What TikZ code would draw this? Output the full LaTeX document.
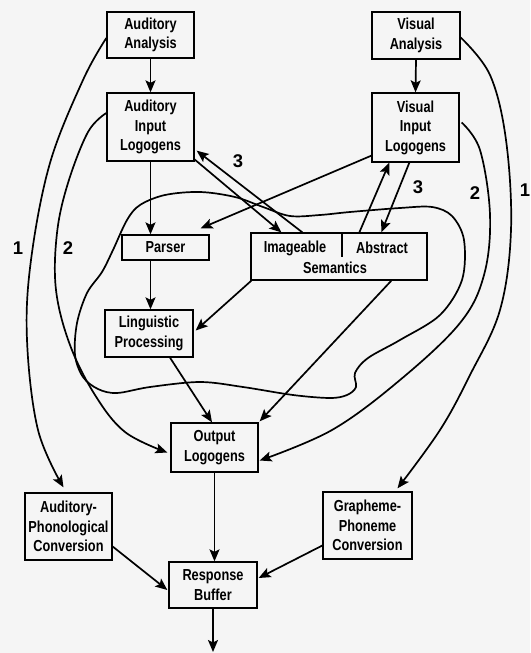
\documentclass[tikz,border=0pt]{standalone}
\usepackage{fontspec}
\setmainfont{Liberation Sans}
\newfontfamily\boxfont[FakeStretch=0.8]{Liberation Sans}
\newfontfamily\numfont{Liberation Sans}
\usetikzlibrary{arrows.meta,calc}
\begin{document}
\begin{tikzpicture}[x=1bp,y=-1bp,
  box/.style={draw, line width=1.3bp, inner sep=0pt, align=center,
    font=\boxfont\bfseries\fontsize{16}{19.5}\selectfont},
  lbl/.style={inner sep=0pt, font=\boxfont\bfseries\fontsize{16}{19.5}\selectfont},
  num/.style={inner sep=0pt, font=\numfont\bfseries\fontsize{18.5}{20}\selectfont},
  conn/.style={line width=1.7bp, -{Stealth[length=12bp,width=10bp,inset=2.5bp]}},
  blob/.style={line width=1.7bp}]

% paper
\fill[black!4] (0,0) rectangle (530,653);

% boxes
\node[box, minimum width=87bp, minimum height=46bp] (aa) at (150.5,35) {Auditory\\Analysis};
\node[box, minimum width=87bp, minimum height=68bp] (aia) at (150.5,127) {Auditory\\Input\\Logogens};
\node[box, minimum width=88bp, minimum height=47bp] (va) at (416,35.5) {Visual\\Analysis};
\node[box, minimum width=87bp, minimum height=69bp] (via) at (415.5,127.5) {Visual\\Input\\Logogens};
\node[box, minimum width=87bp, minimum height=25bp] (parser) at (165.5,247.5) {Parser};
\node[box, minimum width=176bp, minimum height=47bp] (sem) at (339,256.5) {};
\node[lbl] (img) at (295,248) {Imageable};
\node[lbl] (abs) at (382,248) {Abstract};
\node[lbl] (semt) at (335,268) {Semantics};
\draw[line width=1.3bp] ($(sem.north)+(3,0)$) -- ++(0,25);
\node[box, minimum width=88bp, minimum height=47bp] (lp) at (149,333.5) {Linguistic\\Processing};
\node[box, minimum width=87bp, minimum height=49bp] (ol) at (214.5,447.5) {Output\\Logogens};
\node[box, minimum width=87bp, minimum height=67bp] (apc) at (68.5,526.5) {Auditory-\\Phonological\\Conversion};
\node[box, minimum width=88bp, minimum height=46bp] (rb) at (213,585) {Response\\Buffer};
\node[box, minimum width=89bp, minimum height=67bp] (gpc) at (367.5,525.5) {Grapheme-\\Phoneme\\Conversion};
\coordinate (out) at (213,652);

% the semantic region
\draw[blob] plot[smooth cycle, tension=0.55] coordinates {
  (140,205) (165,195) (200,192) (235,197) (263,207) (290,216) (320,215)
  (350,212) (400,208) (432,207) (452,216) (464,240) (462,280) (440,315)
  (400,340) (368,358) (355,373) (356,387) (347,395) (330,398) (293,395)
  (243,387) (200,382) (150,387) (117,393) (98,389) (83,377) (75,355)
  (77,323) (87,293) (102,272) (113,250) (127,220)};

% straight connectors
\draw[conn] (aa.south) -- (aia.north);
\draw[conn] (va.south) -- (via.north);
\draw[conn] (aia.south) -- (aia.south |- parser.north);
\draw[conn] (aia.south |- parser.south) -- (aia.south |- lp.north);
\draw[conn] ($(aia.south east)+(-1,-3)$) -- ($(sem.north west)+(31,0)$);
\draw[conn] ($(sem.north west)+(52,0)$) -- ($(aia.south east)+(2,-11)$);
\draw[conn] ($(via.south west)+(0,-7)$) -- ($(parser.north east)+(-9,-6)$);
\draw[conn] ($(sem.north west)+(109,0)$) -- ($(via.south west)+(18,0)$);
\draw[conn] ($(via.south west)+(38,0)$) -- ($(sem.north west)+(131,0)$);
\draw[conn] ($(sem.south west)+(1,0)$) -- ($(lp.east)+(2,-3)$);
\draw[conn] ($(sem.south west)+(141,0)$) -- ($(ol.north east)+(1,-1)$);
\draw[conn] ($(lp.south)+(21,0)$) -- ($(ol.north)+(-2.5,0)$);
\draw[conn] (ol.south) -- (ol.south |- rb.north);
\draw[conn] ($(apc.east)+(0,20)$) -- ($(rb.west)+(-1,5)$);
\draw[conn] ($(gpc.west)+(0,20)$) -- ($(rb.east)+(1,-7)$);
\draw[conn] (rb.south) -- (out);

% routes 1 and 2
\draw[conn] plot[smooth, tension=0.6] coordinates {
  ($(aa.west)+(0,3)$) (83,80) (50,163) (31,260) (27,340) (38,430) ($(apc.north)+(-5,-5)$)};
\draw[conn] plot[smooth, tension=0.6] coordinates {
  ($(aia.west)+(0,-14)$) (88,132) (68,183) (57,233) (56,290) (70,345) (95,395) (125,432) ($(ol.west)+(-3,5)$)};
\draw[conn] plot[smooth, tension=0.6] coordinates {
  ($(va.east)+(0,2)$) (490,75) (506,140) (511,230) (500,310) (470,375) (440,430) ($(gpc.north)+(30,-3)$)};
\draw[conn] plot[smooth, tension=0.6] coordinates {
  ($(via.east)+(2,-5)$) (480,150) (490,215) (484,275) (460,323) (400,380) (332,430) ($(ol.east)+(1,13)$)};

% route numbers
\node[num] (n1l) at (18,248) {1};
\node[num] (n2l) at (68,248) {2};
\node[num] (n3l) at (238,161) {3};
\node[num] (n3r) at (418,187) {3};
\node[num] (n2r) at (475,193) {2};
\node[num] (n1r) at (525,190) {1};
\end{tikzpicture}
\end{document}
